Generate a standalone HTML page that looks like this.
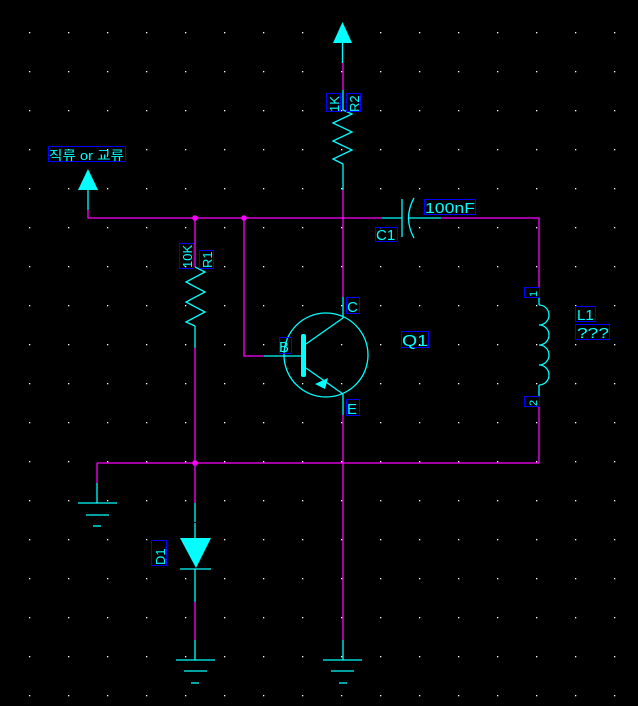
<!DOCTYPE html>
<html><head><meta charset="utf-8"><style>
html,body{margin:0;padding:0;background:#000;width:638px;height:706px;overflow:hidden}
svg{display:block}
text{font-family:"Liberation Sans","Noto Sans CJK KR",sans-serif;fill:#00ffff}
</style></head><body>
<svg width="638" height="706" viewBox="0 0 638 706" xmlns="http://www.w3.org/2000/svg">
<defs>
<pattern id="g" x="29" y="32" width="39" height="39" patternUnits="userSpaceOnUse">
<rect x="0" y="0" width="1.3" height="1.3" fill="#ffffff"/>
</pattern>
</defs>
<rect width="638" height="706" fill="#000"/>
<rect width="638" height="706" fill="url(#g)"/>

<g fill="none" stroke="#ff00ff" stroke-width="1.3">
<!-- top horizontal net -->
<polyline points="88,210 88,218 382,218"/>
<polyline points="441,218 539,218 539,287"/>
<line x1="539" y1="406" x2="539" y2="463"/>
<line x1="97" y1="463" x2="539" y2="463"/>
<polyline points="97,463 97,483"/>
<!-- R2 column -->
<line x1="343" y1="63" x2="343" y2="90"/>
<line x1="343" y1="190" x2="343" y2="297"/>
<line x1="343" y1="415" x2="343" y2="640"/>
<!-- R1 / D1 column -->
<line x1="195" y1="218" x2="195" y2="267"/>
<line x1="195" y1="348" x2="195" y2="503"/>
<line x1="195" y1="602" x2="195" y2="640"/>
<!-- base net -->
<polyline points="244,218 244,356 264,356"/>
</g>
<g fill="#ff00ff">
<circle cx="195" cy="218" r="2.8"/>
<circle cx="244" cy="218" r="2.8"/>
<circle cx="195" cy="463" r="2.8"/>
</g>

<g fill="none" stroke="#00ffff" stroke-width="1.3">
<!-- top arrow -->
<line x1="342.5" y1="43" x2="342.5" y2="63"/>
<line x1="343" y1="90" x2="343" y2="110"/>
<polyline points="343,110 352,114 333,123 352,132 333,141 352,150 333,159 343,164"/>
<line x1="343" y1="164" x2="343" y2="190"/>
<!-- left arrow stem -->
<line x1="88" y1="190" x2="88" y2="210"/>
<!-- R1 -->
<polyline points="195,267 205,272 186,282 205,292 186,302 205,312 186,322 195,326"/>
<line x1="195" y1="326" x2="195" y2="348"/>
<!-- C1 -->
<line x1="382" y1="218" x2="402" y2="218"/>
<line x1="402" y1="199" x2="402" y2="237"/>
<path d="M414,198 Q403,218 414,238"/>
<line x1="409" y1="218" x2="441" y2="218"/>
<!-- L1 -->
<line x1="539" y1="297" x2="539" y2="305"/>
<path d="M539,305 A10,10 0 0 1 539,325 A10,10 0 0 1 539,345 A10,10 0 0 1 539,365 A10,10 0 0 1 539,385"/>
<line x1="539" y1="385" x2="539" y2="397"/>
<!-- transistor -->
<circle cx="326" cy="355" r="42"/>
<line x1="264" y1="356" x2="303" y2="356"/>
<line x1="343" y1="297" x2="343" y2="318"/>
<line x1="306" y1="344" x2="343" y2="318"/>
<line x1="306" y1="368" x2="343" y2="394"/>
<line x1="343" y1="394" x2="343" y2="415"/>
<!-- D1 -->
<line x1="195" y1="503" x2="195" y2="522"/>
<line x1="195" y1="523" x2="195" y2="538"/>
<line x1="180" y1="569" x2="211" y2="569"/>
<line x1="195" y1="569" x2="195" y2="602"/>
<!-- grounds -->
<line x1="97" y1="483" x2="97" y2="503"/>
<line x1="78" y1="503" x2="117" y2="503"/>
<line x1="86" y1="515" x2="109" y2="515"/>
<line x1="93" y1="526" x2="101" y2="526"/>
<line x1="195" y1="640" x2="195" y2="660"/>
<line x1="176" y1="660" x2="215" y2="660"/>
<line x1="184" y1="671" x2="207" y2="671"/>
<line x1="191" y1="683" x2="199" y2="683"/>
<line x1="343" y1="640" x2="343" y2="660"/>
<line x1="323" y1="660" x2="362" y2="660"/>
<line x1="331" y1="671" x2="354" y2="671"/>
<line x1="339" y1="683" x2="347" y2="683"/>
</g>
<g fill="#00ffff">
<polygon points="342.5,22 333,43 352,43"/>
<polygon points="88,169 78,190 98,190"/>
<rect x="301" y="334" width="5" height="43" rx="2"/>
<polygon points="315,384 328,378 325,389"/>
<polygon points="180,538 211,538 196,568"/>
</g>

<!-- label boxes -->
<g fill="none" stroke="#0000ff" stroke-width="1">
<rect x="48.5" y="146.5" width="77" height="15"/>
<rect x="326.5" y="93.5" width="14" height="18"/>
<rect x="346.5" y="93.5" width="14" height="18"/>
<rect x="179.5" y="243.5" width="14" height="25"/>
<rect x="199.5" y="250.5" width="14" height="18"/>
<rect x="424.5" y="199.5" width="51" height="15"/>
<rect x="375.5" y="227.5" width="22" height="14"/>
<rect x="524.5" y="287.5" width="15" height="10"/>
<rect x="524.5" y="396.5" width="15" height="10"/>
<rect x="575.5" y="306.5" width="20" height="15"/>
<rect x="575.5" y="324.5" width="34" height="15"/>
<rect x="401.5" y="331.5" width="27" height="16"/>
<rect x="346.5" y="297.5" width="13" height="16"/>
<rect x="346.5" y="399.5" width="13" height="16"/>
<rect x="279.5" y="337.5" width="12" height="16"/>
<rect x="151.5" y="540.5" width="15" height="25"/>
</g>
<g font-size="14">
<text x="49" y="160" font-size="13" textLength="75" lengthAdjust="spacingAndGlyphs">직류 or 교류</text>
<text x="425" y="213" font-size="15" textLength="50" lengthAdjust="spacingAndGlyphs">100nF</text>
<text x="376" y="240" font-size="15">C1</text>
<text x="577" y="320" font-size="15">L1</text>
<text x="577" y="338" font-size="15" textLength="32" lengthAdjust="spacingAndGlyphs">???</text>
<text x="402" y="346" font-size="16" textLength="26" lengthAdjust="spacingAndGlyphs">Q1</text>
<text x="347" y="312" font-size="15">C</text>
<text x="347" y="414" font-size="15">E</text>
<text x="279" y="352" font-size="15">B</text>
<text transform="translate(339,112) rotate(-90)" font-size="13">1K</text>
<text transform="translate(359,112) rotate(-90)" font-size="13">R2</text>
<text transform="translate(192,268) rotate(-90)" font-size="13">10K</text>
<text transform="translate(212,268) rotate(-90)" font-size="13">R1</text>
<text transform="translate(165,565) rotate(-90)" font-size="13">D1</text>
<text transform="translate(537,297) rotate(-90)" font-size="11">1</text>
<text transform="translate(537,406) rotate(-90)" font-size="11">2</text>
</g>
</svg>
</body></html>
